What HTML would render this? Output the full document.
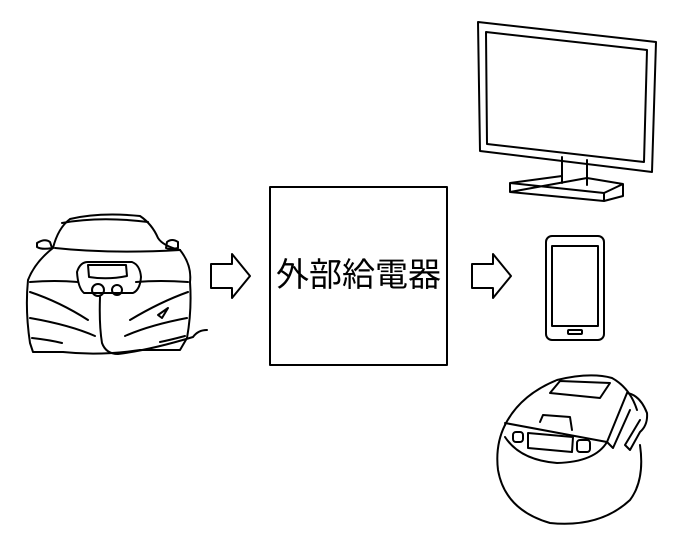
<!DOCTYPE html>
<html><head><meta charset="utf-8"><style>
html,body{margin:0;padding:0;background:#fff;width:686px;height:556px;overflow:hidden}
svg{position:absolute;left:0;top:0}
</style></head><body>
<svg width="686" height="556" viewBox="0 0 686 556" fill="none" stroke="#000" stroke-width="2" stroke-linejoin="round" stroke-linecap="round">
<rect x="270" y="187" width="177" height="178"/>
<text x="358.5" y="286" text-anchor="middle" font-family="'Liberation Sans','Noto Sans CJK JP',sans-serif" font-size="33" fill="#000" stroke="none">外部給電器</text>
<path d="M211 264 H232 V254 L250 276 L232 298 V288 H211 Z"/>
<path d="M472 264 H493 V254 L511 276 L493 298 V288 H472 Z"/>
<!-- car -->
<g>
<path d="M53 248 Q58 228 70 219 Q100 212 140 216 Q152 224 158 238 Q163 246 180 250"/>
<path d="M62 223 Q100 216 148 222"/>
<path d="M55 248 Q110 254 180 250"/>
<path d="M37 243 Q45 238 50 242 L52 248 Q42 250 37 247 Z M167 242 Q172 238 178 242 L178 248 Q170 250 166 248 Z"/>
<path d="M53 248 Q35 262 28 280 Q25 310 30 343 L33 352 H63 M180 250 Q192 265 190 282 Q192 310 187 338 L180 350 H140"/>
<path d="M63 352 Q100 356 140 350"/>
<path d="M30 282 Q55 280 78 282 M136 282 Q160 280 188 282"/>
<path d="M77 272 Q80 262 88 262 H132 Q140 265 141 277 Q140 290 133 293 H84 Q78 288 77 272 Z"/>
<path d="M88 265 H126 L127 276 Q108 280 89 277 Z"/>
<circle cx="98" cy="290" r="6"/><circle cx="117" cy="290" r="5"/>
<path d="M30 292 Q60 302 88 320 M188 292 Q160 302 130 320"/>
<path d="M30 318 Q70 325 95 336 M187 318 Q150 325 125 336"/>
<path d="M32 338 Q50 340 62 343 M185 336 Q170 340 160 342"/>
<path d="M100 297 Q99 325 102 343 Q106 354 118 354 Q150 350 193 337 Q198 330 207 330"/>
<path d="M158 315 L168 308 L162 318 Z"/>
</g>
<!-- monitor -->
<path d="M478 22 L656 42 L652 172 L480 151 Z"/>
<path d="M486 32 L647 50 L644 162 L487 144 Z"/>
<path d="M562 157 V183 M587 160 V185"/>
<path d="M510 183 L562 176 M587 178 L623 184 L623 196 L604 201 L510 192 Z M510 183 V192 M604 193 V201 M510 183 L604 193 L623 184"/>
<!-- phone -->
<rect x="546" y="236" width="58" height="104" rx="6"/>
<rect x="552" y="246" width="46" height="80"/>
<rect x="568" y="330" width="14" height="4" rx="1"/>
<!-- rice cooker -->
<g>
<path d="M505 425 Q520 395 557 380 Q590 372 612 378 Q630 388 637 410"/>
<path d="M505 425 Q495 445 498 470 Q505 510 550 523 Q600 528 630 500 Q645 480 640 445"/>
<path d="M550 393 L560 381 L610 383 L600 398 Z"/>
<path d="M505 423 L607 442 L627 393"/>
<path d="M505 437 Q520 460 557 463 Q595 462 607 442"/>
<path d="M540 422 L543 415 L570 417 L572 430"/>
<rect x="513" y="432" width="10" height="10" rx="3"/>
<path d="M528 433 L573 437 L572 452 L528 448 Z"/>
<rect x="577" y="440" width="13" height="12" rx="3"/>
<path d="M607 442 L613 448 L630 410 M627 393 Q640 395 647 413 Q648 425 640 432 L630 450 L625 445 L640 420"/>
</g>
</svg>
</body></html>
